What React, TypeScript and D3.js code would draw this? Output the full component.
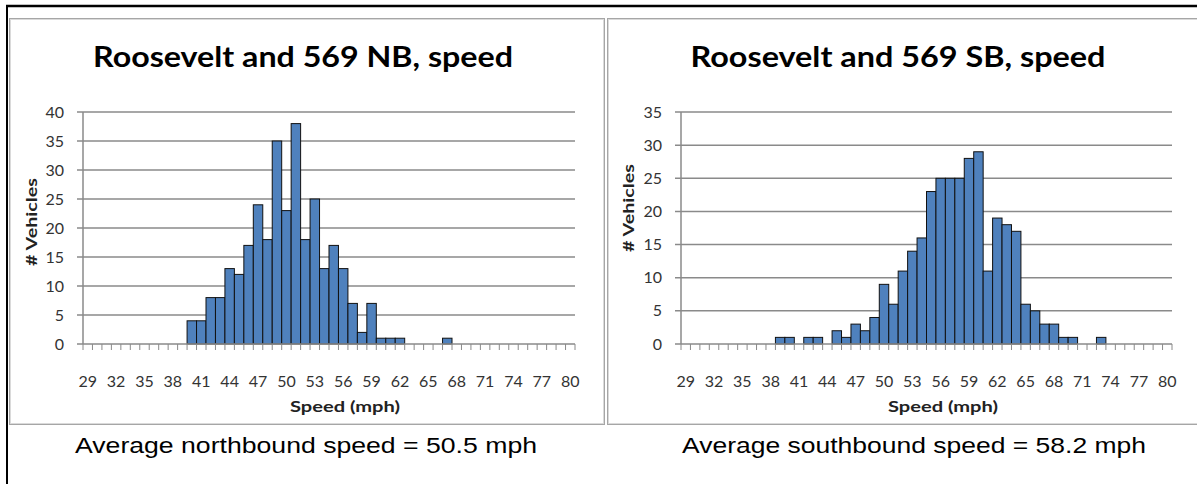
import React from "react";
import * as d3 from "d3";

const speeds: number[] = d3.range(29, 81);
const tickLabels: number[] = [29, 32, 35, 38, 41, 44, 47, 50, 53, 56, 59, 62, 65, 68, 71, 74, 77, 80];

const nbSpeeds = [40, 41, 42, 43, 44, 45, 46, 47, 48, 49, 50, 51, 52, 53, 54, 55, 56, 57, 58, 59, 60, 61, 62, 67];
const nbCounts = [4, 4, 8, 8, 13, 12, 17, 24, 18, 35, 23, 38, 18, 25, 13, 17, 13, 7, 2, 7, 1, 1, 1, 1];

const sbSpeeds = [39, 40, 42, 43, 45, 46, 47, 48, 49, 50, 51, 52, 53, 54, 55, 56, 57, 58, 59, 60, 61, 62, 63, 64, 65, 66, 67, 68, 69, 70, 73];
const sbCounts = [1, 1, 1, 1, 2, 1, 3, 2, 4, 9, 6, 11, 14, 16, 23, 25, 25, 25, 28, 29, 11, 19, 18, 17, 6, 5, 3, 3, 1, 1, 1];

const nbTitle = "Roosevelt and 569 NB, speed";
const sbTitle = "Roosevelt and 569 SB, speed";
const nbAvg = "Average northbound speed = 50.5 mph";
const sbAvg = "Average southbound speed = 58.2 mph";

const CAL = "Lato, 'Open Sans', sans-serif";
const ARIAL = "'Liberation Sans', Arial, sans-serif";

type HistProps = {
  title: string;
  titleX: number;
  titleLen: number;
  xs: number[];
  ys: number[];
  yMax: number;
  plotLeft: number;
  plotRight: number;
  yLabelX: number;
  yLabelY: number;
  xLabelX: number;
};

function Hist({ title, titleX, titleLen, xs, ys, yMax, plotLeft, plotRight, yLabelX, yLabelY, xLabelX }: HistProps) {
  const top = 112;
  const bottom = 344;
  const x = d3.scaleBand<number>().domain(speeds).range([plotLeft, plotRight]).padding(0);
  const y = d3.scaleLinear().domain([0, yMax]).range([bottom, top]);
  const yTicks = d3.range(0, yMax + 1, 5);
  const bw = x.bandwidth();
  const boundaries = d3.range(0, speeds.length + 1).map((i) => plotLeft + i * bw);
  return (
    <g>
      <text
        x={titleX - titleLen / 2}
        y={67}
        textLength={titleLen}
        lengthAdjust="spacingAndGlyphs"
        fontFamily={CAL}
        fontWeight={700}
        fontSize={29}
        fill="#000"
      >
        {title}
      </text>
      {yTicks.map((t) => (
        <g key={t}>
          <line x1={plotLeft - 6} x2={t === 0 ? plotLeft : plotRight} y1={y(t)} y2={y(t)} stroke="#8a8a8a" strokeWidth={1.5} />
          <text x={plotLeft - 19} y={y(t) + 5.5} textAnchor="end" fontFamily={CAL} fontSize={16} fill="#333">
            {t}
          </text>
        </g>
      ))}
      <line x1={plotLeft} x2={plotLeft} y1={top} y2={bottom} stroke="#8a8a8a" strokeWidth={1.5} />
      {xs.map((s, i) => (
        <rect
          key={s}
          x={x(s)!}
          y={y(ys[i])}
          width={bw}
          height={bottom - y(ys[i])}
          fill="#4F81BD"
          stroke="#111"
          strokeWidth={1}
        />
      ))}
      <line x1={plotLeft} x2={plotRight} y1={bottom} y2={bottom} stroke="#8a8a8a" strokeWidth={1.5} />
      {boundaries.map((bx, i) => (
        <line key={i} x1={bx} x2={bx} y1={bottom} y2={bottom + 6} stroke="#8a8a8a" strokeWidth={1} />
      ))}
      {tickLabels.map((t) => (
        <text key={t} x={x(t)! + bw / 2} y={387} textAnchor="middle" fontFamily={CAL} fontSize={16} fill="#333">
          {t}
        </text>
      ))}
      <text
        x={xLabelX - 55}
        y={412}
        textLength={110}
        lengthAdjust="spacingAndGlyphs"
        fontFamily={CAL}
        fontWeight={700}
        fontSize={16}
        fill="#222"
      >
        Speed (mph)
      </text>
      <text
        transform={`translate(${yLabelX},${yLabelY + 44}) rotate(-90)`}
        textLength={88}
        lengthAdjust="spacingAndGlyphs"
        fontFamily={CAL}
        fontWeight={700}
        fontSize={16}
        fill="#222"
      >
        # Vehicles
      </text>
    </g>
  );
}

export default function App() {
  return (
    <svg width={1197} height={484} style={{ position: "absolute", left: 0, top: 0, background: "#fff" }}>
      <rect width={1197} height={484} fill="#fff" />
      <rect x={9.5} y={18.5} width={595} height={406} fill="none" stroke="#a6a6a6" strokeWidth={1} />
      <rect x={10.5} y={19.5} width={593} height={404} fill="none" stroke="#dadada" strokeWidth={1} />
      <rect x={607.5} y={18.5} width={600} height={406} fill="none" stroke="#a6a6a6" strokeWidth={1} />
      <rect x={608.5} y={19.5} width={600} height={404} fill="none" stroke="#dadada" strokeWidth={1} />
      <line x1={6} x2={1197} y1={6} y2={6} stroke="#000" strokeWidth={2.5} />
      <line x1={7} x2={7} y1={5} y2={484} stroke="#000" strokeWidth={2} />

      <Hist
        title={nbTitle}
        titleX={303}
        titleLen={420}
        xs={nbSpeeds}
        ys={nbCounts}
        yMax={40}
        plotLeft={83}
        plotRight={575}
        yLabelX={37}
        yLabelY={222}
        xLabelX={345}
      />
      <Hist
        title={sbTitle}
        titleX={898}
        titleLen={415}
        xs={sbSpeeds}
        ys={sbCounts}
        yMax={35}
        plotLeft={681}
        plotRight={1172}
        yLabelX={634}
        yLabelY={208}
        xLabelX={943}
      />
      <text x={75} y={453} textLength={462} lengthAdjust="spacingAndGlyphs" fontFamily={ARIAL} fontSize={22} fill="#000">
        {nbAvg}
      </text>
      <text x={682} y={453} textLength={464} lengthAdjust="spacingAndGlyphs" fontFamily={ARIAL} fontSize={22} fill="#000">
        {sbAvg}
      </text>
    </svg>
  );
}
